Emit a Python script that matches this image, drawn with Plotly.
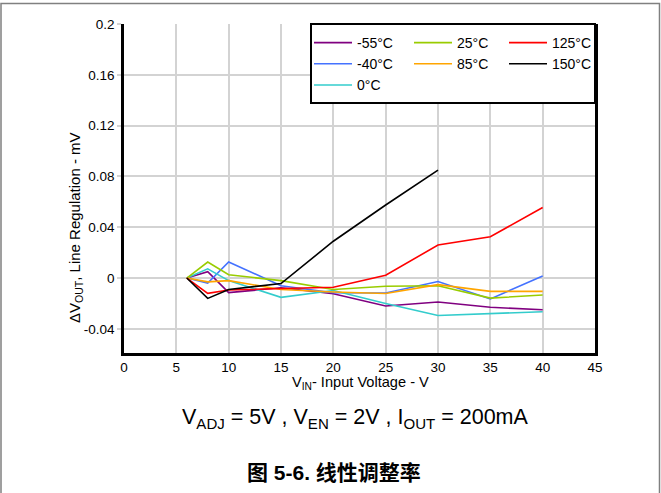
import plotly.graph_objects as go

# ---- data ----
vin = [6, 8, 10, 15, 20, 25, 30, 35, 40]
vin_150 = [6, 8, 10, 15, 20, 25, 30]

dv_m55 = [0, 0.005, -0.0115, -0.0076, -0.0124, -0.022, -0.0188, -0.023, -0.025]
dv_m40 = [0, -0.004, 0.0126, -0.006, -0.0116, -0.0118, -0.0027, -0.0165, 0.0016]
dv_0 = [0, 0.0073, -0.002, -0.0152, -0.0098, -0.020, -0.0295, -0.0282, -0.0265]
dv_25 = [0, 0.0126, 0.0026, -0.002, -0.009, -0.0065, -0.006, -0.0158, -0.0133]
dv_85 = [0, -0.003, -0.002, -0.009, -0.011, -0.0122, -0.0052, -0.0105, -0.0105]
dv_125 = [0, -0.012, -0.0094, -0.008, -0.0072, 0.0022, 0.026, 0.0325, 0.0556]
dv_150 = [0, -0.016, -0.009, -0.0043, 0.029, 0.0575, 0.085]

x_tickvals = [0, 5, 10, 15, 20, 25, 30, 35, 40, 45]
x_ticktext = ["0", "5", "10", "15", "20", "25", "30", "35", "40", "45"]
y_tickvals = [-0.04, 0, 0.04, 0.08, 0.12, 0.16, 0.2]
y_ticktext = ["-0.04", "0", "0.04", "0.08", "0.12", "0.16", "0.2"]

FONT = "Liberation Sans, Arial, sans-serif"

series = [
    ("-55°C", vin, dv_m55, "#800080", "legend"),
    ("-40°C", vin, dv_m40, "#4472ff", "legend"),
    ("0°C", vin, dv_0, "#33cccc", "legend"),
    ("25°C", vin, dv_25, "#99cc00", "legend2"),
    ("85°C", vin, dv_85, "#ffa500", "legend2"),
    ("125°C", vin, dv_125, "#ff0000", "legend3"),
    ("150°C", vin_150, dv_150, "#000000", "legend3"),
]

fig = go.Figure()
for name, xs, ys, color, lg in series:
    fig.add_trace(go.Scatter(x=xs, y=ys, mode="lines", name=name,
                             line=dict(color=color, width=1.6), legend=lg))

W, H = 661, 493
L, R, T, B = 124, 66, 24, 140
pw, ph = W - L - R, H - T - B


def px(x):
    return (x - L) / pw


def py(y):
    return (H - B - y) / ph


legend_common = dict(bgcolor="rgba(0,0,0,0)", borderwidth=0, xanchor="left",
                     yanchor="top", font=dict(family=FONT, size=14, color="#000"),
                     itemwidth=38, tracegroupgap=0)

fig.update_layout(
    width=W, height=H,
    margin=dict(l=L, r=R, t=T, b=B),
    paper_bgcolor="white", plot_bgcolor="white",
    font=dict(family=FONT, size=13, color="#000"),
    legend=dict(x=px(309), y=py(27), **legend_common),
    legend2=dict(x=px(409), y=py(27), **legend_common),
    legend3=dict(x=px(504), y=py(27), **legend_common),
    xaxis=dict(range=[0, 45], tickvals=x_tickvals, ticktext=x_ticktext,
               showgrid=True, gridcolor="#d3d3d3", gridwidth=2,
               zeroline=False, showline=True, linecolor="#000", linewidth=2.5,
               ticks="", tickfont=dict(size=13.5, family=FONT)),
    yaxis=dict(range=[-0.059, 0.2], tickvals=y_tickvals, ticktext=y_ticktext,
               showgrid=True, gridcolor="#d3d3d3", gridwidth=2,
               zeroline=False, showline=True, linecolor="#000", linewidth=2.5,
               mirror=True, ticks="outside", ticklen=4, tickcolor="#d3d3d3",
               tickwidth=2, tickfont=dict(size=13.5, family=FONT)),
    shapes=[
        dict(type="rect", xref="paper", yref="paper", x0=px(311), x1=1.0,
             y0=py(103), y1=1.0, fillcolor="white",
             line=dict(color="#000", width=2), layer="above"),
        dict(type="path", xref="paper", yref="paper",
             path=f"M {px(1)},{py(500)} L {px(1)},{py(3.5)} L {px(659.5)},{py(3.5)} L {px(659.5)},{py(500)}",
             line=dict(color="#808080", width=1.5), layer="below"),
    ],
    annotations=[
        dict(text="ΔV<sub>OUT</sub>, Line Regulation - mV", xref="paper", yref="paper",
             x=px(75), y=py(228), textangle=-90, showarrow=False,
             xanchor="center", yanchor="middle", font=dict(size=15, family=FONT)),
        dict(text="V<sub>IN</sub>- Input Voltage - V", xref="paper", yref="paper",
             x=px(360), y=py(383), showarrow=False,
             xanchor="center", yanchor="middle", font=dict(size=14.6, family=FONT)),
        dict(text="V<sub>ADJ</sub> = 5V , V<sub>EN</sub> = 2V , I<sub>OUT</sub> = 200mA",
             xref="paper", yref="paper", x=px(355), y=py(418), showarrow=False,
             xanchor="center", yanchor="middle", font=dict(size=21.5, family=FONT)),
        dict(text="<b>图 5-6. 线性调整率</b>", xref="paper", yref="paper",
             x=px(333.5), y=py(472), showarrow=False, xanchor="center", yanchor="middle",
             font=dict(size=21, family="Liberation Sans, Noto Sans CJK SC, sans-serif")),
    ],
)

fig.write_html("out.html")
